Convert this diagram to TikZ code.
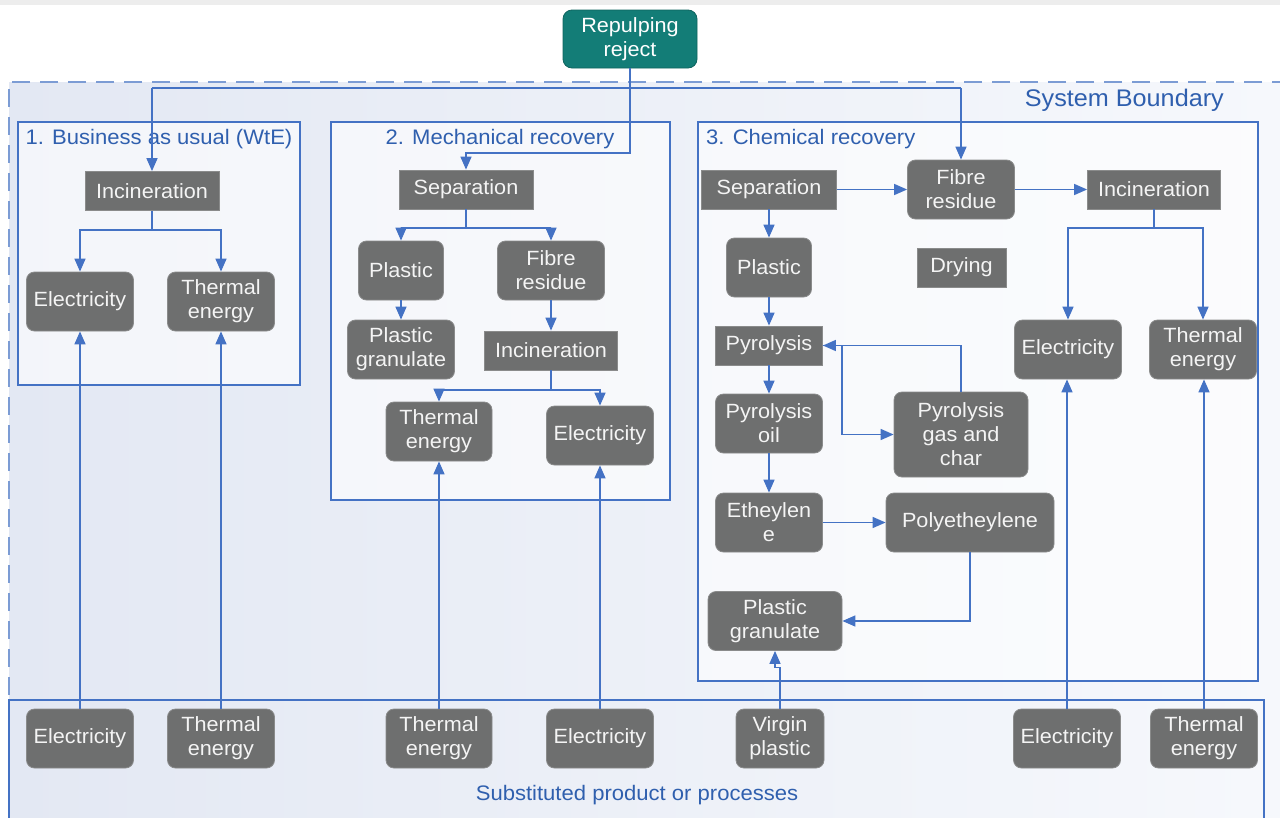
\documentclass[tikz,border=0pt]{standalone}
\usepackage{fontspec}
\setmainfont[FakeStretch=1.05]{Liberation Sans}
\usetikzlibrary{arrows.meta,calc}
\definecolor{boxgray}{HTML}{6E6F6F}
\definecolor{boxedge}{HTML}{8A8B8B}
\definecolor{boxtext}{HTML}{F4F4F4}
\definecolor{lineblue}{HTML}{4472C4}
\definecolor{textblue}{HTML}{2F5FAE}
\definecolor{teal}{HTML}{137D77}
\definecolor{dashblue}{HTML}{7C9CD4}
\definecolor{bgleft}{HTML}{E3E8F3}
\definecolor{bgright}{HTML}{F6F8FC}
\tikzset{
  box/.style={fill=boxgray, draw=boxedge, line width=0.8pt, text=boxtext, align=center, inner sep=0pt, font=\fontsize{20.6}{24}\selectfont},
  rbox/.style={box, rounded corners=8pt},
  sbox/.style={box},
  sz/.style 2 args={minimum width=#1pt, minimum height=#2pt},
  conn/.style={draw=lineblue, line width=1.5pt},
  arr/.style={conn, -{Triangle[length=13pt,width=11pt]}},
  panel/.style={draw=lineblue, line width=1.3pt, fill=white, fill opacity=0.6},
  ttl/.style={text=textblue, inner sep=0pt, font=\fontsize{21}{24}\selectfont}
}
\begin{document}
\begin{tikzpicture}[x=1pt,y=-1pt]
\useasboundingbox (0,0) rectangle (1280,817);
\fill[white] (0,0) rectangle (1280,817);
\fill[black!7] (0,0) rectangle (1280,5);
% system boundary background
\shade[left color=bgleft, right color=bgright] (9,82) rectangle (1280,817);
\draw[dashblue, line width=1.6pt, dash pattern=on 18pt off 10pt] (1290,82) -- (9,82) -- (9,700);
\node[text=textblue, inner sep=0pt, font=\fontsize{24}{27}\selectfont, anchor=east] (sb) at (1224,100) {System Boundary};
% substituted band
\shade[left color=bgleft, right color=bgright] (9,700) rectangle (1264,830);
\draw[lineblue, line width=1.3pt] (9,830) -- (9,700) -- (1264,700) -- (1264,830);
\node[text=textblue, inner sep=0pt, font=\fontsize{21}{24}\selectfont] (subst) at (637,795) {Substituted product or processes};
% panels
\path[panel] (18,122) rectangle (300,385);
\path[panel] (331,122) rectangle (670,500);
\path[panel] (698,122) rectangle (1258,681);
\node[ttl] (t1) at (159,139) {1. Business as usual (WtE)};
\node[ttl] (t2) at (500,139) {2. Mechanical recovery};
\node[ttl, anchor=west] (t3) at (706,139) {3. Chemical recovery};
% reject
\node[rbox, fill=teal, draw=teal!80!black, text=white, sz={134}{58}, rounded corners=9pt] (rej) at (630,39) {Repulping\\reject};
% panel 1
\node[sbox, sz={134}{39}] (inc1) at (152,191) {Incineration};
\node[rbox, sz={107}{59}] (el1) at (80,301.5) {Electricity};
\node[rbox, sz={107}{59}] (th1) at (221,301.5) {Thermal\\energy};
% panel 2
\node[sbox, sz={134}{39}] (sep2) at (466,189.5) {Separation};
\node[rbox, sz={85}{59}] (pl2) at (401,270.5) {Plastic};
\node[rbox, sz={107}{59}] (fr2) at (551,270.5) {Fibre\\residue};
\node[rbox, sz={107}{59}] (pg2) at (401,349.5) {Plastic\\granulate};
\node[sbox, sz={133}{39}] (inc2) at (551,350.5) {Incineration};
\node[rbox, sz={106}{59}] (th2) at (439,431.5) {Thermal\\energy};
\node[rbox, sz={107}{59}] (el2) at (600,435.5) {Electricity};
% panel 3
\node[sbox, sz={135}{39}] (sep3) at (769,189.5) {Separation};
\node[rbox, sz={107}{59}] (fr3) at (961,189.5) {Fibre\\residue};
\node[sbox, sz={133}{39}] (inc3) at (1154,189.5) {Incineration};
\node[rbox, sz={85}{59}] (pl3) at (769,267.5) {Plastic};
\node[sbox, sz={89}{39}] (dry3) at (961.5,267.5) {Drying};
\node[sbox, sz={107}{39}] (pyr3) at (769,345.5) {Pyrolysis};
\node[rbox, sz={107}{59}] (po3) at (769,423.5) {Pyrolysis\\oil};
\node[rbox, sz={134}{85}] (gc3) at (961,434.5) {Pyrolysis\\gas and\\char};
\node[rbox, sz={107}{59}] (eth3) at (769,522.5) {Etheylen\\e};
\node[rbox, sz={168}{59}] (pe3) at (970,522.5) {Polyetheylene};
\node[rbox, sz={134}{59}] (pg3) at (775,621) {Plastic\\granulate};
\node[rbox, sz={107}{59}] (el3) at (1068,349.5) {Electricity};
\node[rbox, sz={107}{59}] (th3) at (1203,349.5) {Thermal\\energy};
% bottom
\node[rbox, sz={107}{59}] (bel1) at (80,738.5) {Electricity};
\node[rbox, sz={107}{59}] (bth1) at (221,738.5) {Thermal\\energy};
\node[rbox, sz={106}{59}] (bth2) at (439,738.5) {Thermal\\energy};
\node[rbox, sz={107}{59}] (bel2) at (600,738.5) {Electricity};
\node[rbox, sz={88}{59}] (vp) at (780,738.5) {Virgin\\plastic};
\node[rbox, sz={107}{59}] (bel3) at (1067,738.5) {Electricity};
\node[rbox, sz={107}{59}] (bth3) at (1204,738.5) {Thermal\\energy};
% connectors from reject
\coordinate (tl) at (152,88);
\coordinate (tr) at (961,88);
\coordinate (j2) at (466,153);
\draw[conn] (tl) -- (tr);
\draw[arr] (tl) -- (inc1.north);
\draw[arr] (tr) -- (fr3.north);
\draw[arr] (rej.south) |- (j2) -- (sep2.north);
% panel 1
\coordinate (s1) at (152,230);
\draw[conn] (inc1.south) -- (s1);
\draw[arr] (s1) -| (el1.north);
\draw[arr] (s1) -| (th1.north);
% panel 2
\coordinate (s2) at (466,228);
\draw[conn] (sep2.south) -- (s2);
\draw[arr] (s2) -| (pl2.north);
\draw[arr] (s2) -| (fr2.north);
\draw[arr] (pl2.south) -- (pg2.north);
\draw[arr] (fr2.south) -- (inc2.north);
\coordinate (s3) at (551,390);
\draw[conn] (inc2.south) -- (s3);
\draw[arr] (s3) -| (th2.north);
\draw[arr] (s3) -| (el2.north);
% panel 3
\draw[arr] (sep3.east) -- (fr3.west);
\draw[arr] (fr3.east) -- (inc3.west);
\coordinate (s4) at (1154,228);
\draw[conn] (inc3.south) -- (s4);
\draw[arr] (s4) -| (el3.north);
\draw[arr] (s4) -| (th3.north);
\draw[arr] (sep3.south) -- (pl3.north);
\draw[arr] (pl3.south) -- (pyr3.north);
\draw[arr] (pyr3.south) -- (po3.north);
\draw[arr] (po3.south) -- (eth3.north);
\draw[arr] (eth3.east) -- (pe3.west);
\coordinate (k) at (842,345.5);
\draw[arr] (pyr3.east) -- (k) |- (gc3.west);
\draw[arr] (gc3.north) |- (pyr3.east);
\draw[arr] (pe3.south) |- (pg3.east);
\draw[arr] (vp.north) -- ++(0,-41) -| (pg3.south);
% bottom up
\draw[arr] (bel1.north) -- (el1.south);
\draw[arr] (bth1.north) -- (th1.south);
\draw[arr] (bth2.north) -- (th2.south);
\draw[arr] (bel2.north) -- (el2.south);
\draw[arr] (bel3.north) -- (bel3.north |- el3.south);
\draw[arr] (bth3.north) -- (bth3.north |- th3.south);
\end{tikzpicture}
\end{document}
